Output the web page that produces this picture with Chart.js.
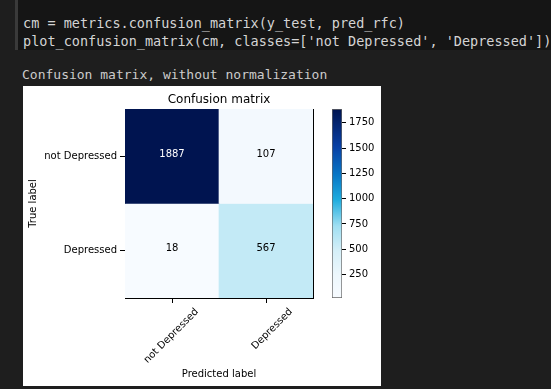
<!DOCTYPE html>
<html>
<head>
<meta charset="utf-8">
<script src="https://cdn.jsdelivr.net/npm/chart.js@4.4.0/dist/chart.umd.min.js"></script>
<style>
  body { margin: 0; background: #1e1e1e; width: 551px; height: 389px; overflow: hidden; position: relative; }
  #cell { position: absolute; left: 15px; top: 0; width: 536px; height: 50px; background: #151515; border-left: 3px solid #3a3a3a; box-sizing: border-box; }
  .mono { position: absolute; font-family: "DejaVu Sans Mono", monospace; color: #d4d4d4; white-space: pre; line-height: 16px; }
  #fig { position: absolute; left: 23px; top: 86px; width: 358px; height: 300px; background: #fff; }
  #main { position: absolute; left: 23px; top: 86px; }
  #cbar { position: absolute; left: 332px; top: 99px; }
</style>
</head>
<body>
<div id="cell"></div>
<div class="mono" style="left:23px; top:15px; font-size:13.5px;">cm = metrics.confusion_matrix(y_test, pred_rfc)</div>
<div class="mono" style="left:23px; top:33px; font-size:13.5px;">plot_confusion_matrix(cm, classes=['not Depressed', 'Depressed'])</div>
<div class="mono" style="left:22px; top:67px; font-size:13px; color:#cccccc;">Confusion matrix, without normalization</div>
<div id="fig"></div>
<canvas id="main" width="358" height="300"></canvas>
<canvas id="cbar" width="50" height="209"></canvas>
<script>
// data
const classes = ["not Depressed", "Depressed"];
const cm = [
  [1887, 107], // true: not Depressed
  [18, 567],   // true: Depressed
];
const cbTicks = [250, 500, 750, 1000, 1250, 1500, 1750];

const vmin = Math.min(...cm.flat());
const vmax = Math.max(...cm.flat());

// colour ramp as seen on the colour bar (white -> cyan -> navy)
const stops = [
  [0.0, [247, 251, 255]],
  [0.12, [237, 247, 252]],
  [0.25, [213, 239, 248]],
  [0.38, [160, 223, 242]],
  [0.52, [30, 172, 222]],
  [0.65, [8, 119, 198]],
  [0.8, [8, 64, 165]],
  [1.0, [0, 20, 80]],
];

function cmap(v) {
  var t = (v - vmin) / (vmax - vmin);
  t = Math.max(0, Math.min(1, t));
  for (var i = 1; i < stops.length; i++) {
    if (t <= stops[i][0]) {
      var a = stops[i - 1], b = stops[i];
      var f = (t - a[0]) / (b[0] - a[0]);
      var c = a[1].map((x, k) => Math.round(x + (b[1][k] - x) * f));
      return "rgb(" + c.join(",") + ")";
    }
  }
  return "rgb(" + stops[stops.length - 1][1].join(",") + ")";
}

Chart.defaults.font.family = "'DejaVu Sans', sans-serif";
Chart.defaults.font.size = 10;
Chart.defaults.color = "#000";

//numbers inside the cells
const cellText = {
  id: "cellText",
  afterDatasetsDraw(chart) {
    const ctx = chart.ctx;
    ctx.save();
    ctx.font = "10px 'DejaVu Sans'";
    ctx.textAlign = "center";
    ctx.textBaseline = "middle";
    cm.forEach((row, r) => {
      chart.getDatasetMeta(r).data.forEach((bar, c) => {
        ctx.fillStyle = row[c] > vmax / 2 ? "#fff" : "#000";
        ctx.fillText(String(row[c]), bar.x, (bar.y + bar.base) / 2 - 2);
      });
    });
    ctx.restore();
  },
};

// one dataset per true label, one bar per predicted label
const datasets = cm.map((row, r) => ({
  label: classes[r],
  data: classes.map(() => [r, r + 1]),
  backgroundColor: row.map((v) => cmap(v)),
  borderWidth: 0,
  grouped: false,
  barPercentage: 1,
  categoryPercentage: 1,
}));

new Chart(document.getElementById("main"), {
  type: "bar",
  data: { labels: classes, datasets: datasets },
  options: {
    responsive: false,
    animation: false,
    layout: { padding: { left: 0, right: 68, top: 0, bottom: 0 } },
    plugins: {
      legend: { display: false },
      tooltip: { enabled: false },
      title: {
        display: true,
        fullSize: false,
        text: "Confusion matrix",
        font: { size: 12, weight: "normal" },
        color: "#000",
        padding: { top: 6.6, bottom: 2 },
      },
    },
    scales: {
      x: {
        type: "category",
        grid: { display: true, drawOnChartArea: false, offset: false, tickLength: 5, color: "#000" },
        border: { color: "#000" },
        ticks: { autoSkip: false, minRotation: 45, maxRotation: 45, labelOffset: 25, padding: 3 },
        title: { display: true, text: "Predicted label", padding: { top: 0, bottom: 6 } },
        afterFit: (s) => { s.height = 88; },
      },
      y: {
        type: "linear",
        min: 0,
        max: 2,
        reverse: true,
        grid: { display: true, drawOnChartArea: false, tickLength: 5, color: "#000" },
        border: { color: "#000" },
        afterBuildTicks: (s) => { s.ticks = classes.map((_, i) => ({ value: i + 0.5 })); },
        ticks: { padding: 3, callback: (v, i) => classes[i] },
        title: { display: true, text: "True label", padding: { top: 4, bottom: 0 } },
        afterFit: (s) => { s.width = 102; },
      },
      //frame on top and right
      top: {
        type: "linear",
        position: "top",
        ticks: { display: false },
        grid: { display: false, drawTicks: false },
        border: { color: "#000" },
        afterFit: (s) => { s.height = 0; },
      },
      right: {
        type: "linear",
        position: "right",
        ticks: { display: false },
        grid: { display: false, drawTicks: false },
        border: { color: "#000" },
        afterFit: (s) => { s.width = 0; },
      },
    },
  },
  plugins: [cellText],
});

//colour bar
new Chart(document.getElementById("cbar"), {
  type: "bar",
  data: {
    labels: [""],
    datasets: [
      {
        data: [[vmin, vmax]],
        backgroundColor: (c) => {
          const { chartArea, ctx } = c.chart;
          if (!chartArea) return null;
          const g = ctx.createLinearGradient(0, chartArea.bottom, 0, chartArea.top);
          stops.forEach((s) => g.addColorStop(s[0], "rgb(" + s[1].join(",") + ")"));
          return g;
        },
        borderColor: "#666",
        borderWidth: 1,
        borderSkipped: false,
        barPercentage: 1,
        categoryPercentage: 1,
      },
    ],
  },
  options: {
    responsive: false,
    animation: false,
    layout: { padding: { left: 0, right: 0, top: 10, bottom: 10 } },
    plugins: { legend: { display: false }, tooltip: { enabled: false } },
    scales: {
      x: { display: false },
      y: {
        position: "right",
        min: vmin,
        max: vmax,
        grid: { display: true, drawOnChartArea: false, tickLength: 4, color: "#000" },
        border: { display: false },
        afterBuildTicks: (s) => { s.ticks = cbTicks.map((v) => ({ value: v })); },
        ticks: { padding: 3, callback: (v) => String(v) },
        afterFit: (s) => { s.width = 40; },
      },
    },
  },
});
</script>
</body>
</html>
